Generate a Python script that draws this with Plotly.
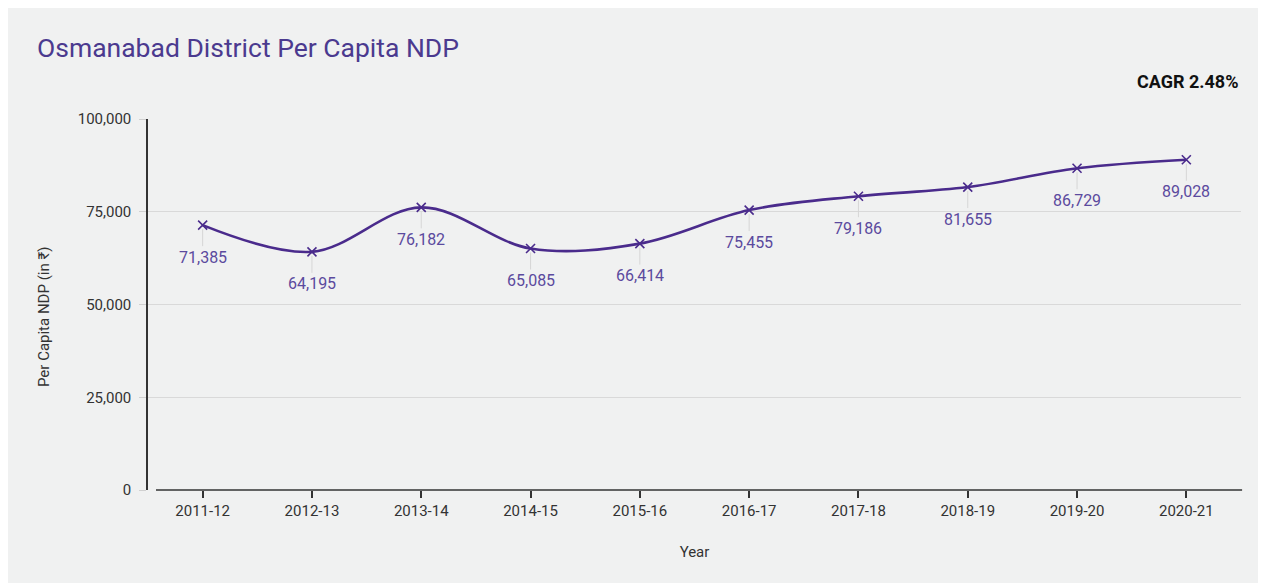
"""
Osmanabad District Per Capita NDP
"""
import plotly.graph_objects as go

years = ["2011-12", "2012-13", "2013-14", "2014-15", "2015-16",
         "2016-17", "2017-18", "2018-19", "2019-20", "2020-21"]
ndp = [71385, 64195, 76182, 65085, 66414, 75455, 79186, 81655, 86729, 89028]
y_ticks = [0, 25000, 50000, 75000, 100000]
y_tick_labels = ["0", "25,000", "50,000", "75,000", "100,000"]

# the page adds an 8px body margin, the figure is the grey card itself
W, H = 1250, 575
ML, MR, MT, MB = 140, 17, 111, 93
PW, PH = W - ML - MR, H - MT - MB

LINE = "#4a2b8c"
LABEL = "#5b4a9e"
FONT = "Roboto"

fig = go.Figure()
fig.add_trace(go.Scatter(
    x=years, y=ndp, mode="lines+markers",
    line=dict(color=LINE, width=2.6, shape="spline", smoothing=1),
    marker=dict(symbol="x-thin", size=9, line=dict(color=LINE, width=1.6)),
    hoverinfo="x+y", showlegend=False,
))

# data labels below each point with a thin leader line
for yr, v in zip(years, ndp):
    fig.add_annotation(
        x=yr, y=v, text=f"{v:,}", showarrow=True, arrowhead=0,
        arrowcolor="#d6d6d6", arrowwidth=1, ax=0, ay=32, standoff=4,
        font=dict(family=FONT, size=16, color=LABEL),
    )

fig.add_annotation(
    text="<b>CAGR 2.48%</b>", xref="paper", yref="paper",
    x=1, y=1 + 37 / PH, xanchor="right", yanchor="middle",
    showarrow=False, font=dict(family=FONT, size=18, color="#111111"),
)

# y axis title, sitting a little below the plot centre as in the original
fig.add_annotation(
    text="Per Capita NDP (in ₹)", xref="paper", yref="paper",
    x=-104 / PW, y=(MT + PH - 309) / PH, textangle=-90,
    xanchor="center", yanchor="middle", showarrow=False,
    font=dict(family=FONT, size=15, color="#333333"),
)

# x axis line, leaving a small gap from the y axis
fig.add_shape(
    type="line", xref="paper", yref="paper",
    x0=8 / PW, x1=1.001, y0=0, y1=0,
    line=dict(color="#333333", width=1.5),
)

fig.update_layout(
    width=W, height=H,
    margin=dict(l=ML, r=MR, t=MT, b=MB),
    paper_bgcolor="#f0f1f1", plot_bgcolor="#f0f1f1",
    font=dict(family=FONT, size=15, color="#333333"),
    title=dict(text="Osmanabad District Per Capita NDP",
               xref="container", yref="container",
               x=29 / W, y=1 - 40 / H, xanchor="left", yanchor="middle",
               font=dict(family=FONT, size=26.5, color="#4b3a8f")),
    xaxis=dict(
        type="category", range=[-0.5, 9.5], showgrid=False, showline=False,
        zeroline=False, ticks="outside", ticklen=7, tickwidth=1.5,
        tickcolor="#333333", tickfont=dict(size=15, color="#333333"),
        title=dict(text="Year", standoff=27, font=dict(size=15)),
    ),
    yaxis=dict(
        range=[0, 100000], tickvals=y_ticks, ticktext=y_tick_labels,
        showgrid=True, gridcolor="#d9d9d9", gridwidth=1,
        zeroline=False, showline=True, linecolor="#333333", linewidth=1.5,
        ticks="outside", ticklen=7, tickcolor="#d0d0d0",
        ticklabelstandoff=5,
        tickfont=dict(size=15, color="#333333"),
    ),
)

fig.write_html("out.html")
